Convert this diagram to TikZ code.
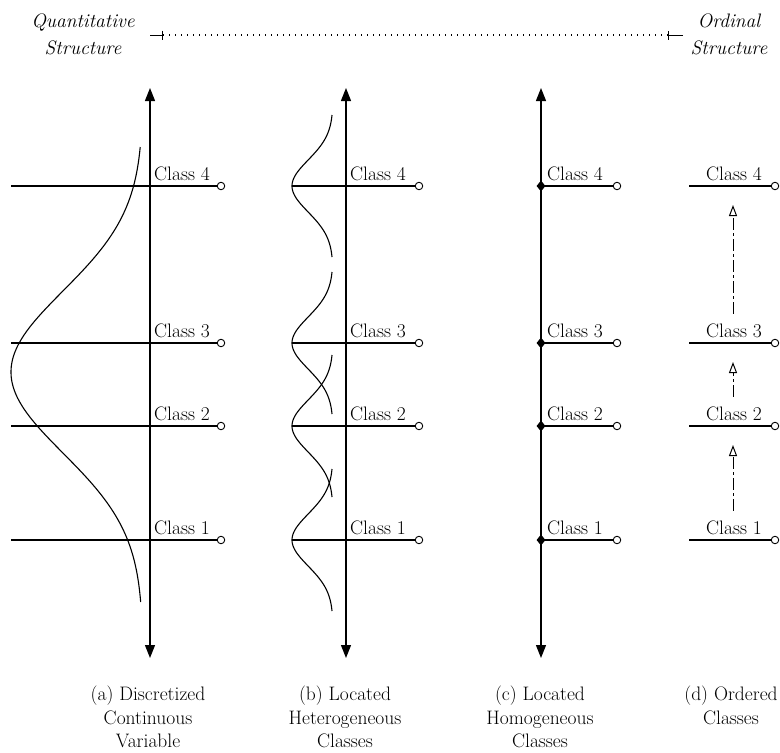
\documentclass[tikz,border=0pt]{standalone}
\usepackage{fontspec}
\usepackage{tikz}
\usetikzlibrary{arrows.meta,positioning,shapes.geometric}
\tikzset{
  axis/.style  ={{Triangle[length=13pt,width=10pt]}-{Triangle[length=13pt,width=10pt]}, line width=1.3pt},
  cls/.style   ={line width=1.1pt},
  endpt/.style ={circle, draw, line width=0.9pt, fill=white, inner sep=0pt, minimum size=7.5pt},
  loc/.style   ={diamond, fill, inner sep=0pt, minimum width=9pt, minimum height=11pt},
  lab/.style   ={font=\fontsize{19.5}{24}\selectfont, inner sep=0pt},
  subcap/.style={font=\fontsize{19.5}{23.5}\selectfont, align=center, inner sep=0pt, anchor=north},
  head/.style  ={font=\fontsize{19.5}{27}\selectfont\itshape, align=center, inner sep=0pt, anchor=north},
  dens/.style  ={line width=1.1pt, samples=90, smooth},
  ordarr/.style={-{Triangle[open,length=11pt,width=8pt]}, line width=1pt, dash pattern=on 12pt off 3pt on 3pt off 3pt, shorten <=10pt, shorten >=19pt},
}

\begin{document}
\begin{tikzpicture}[x=1pt,y=-1pt]
  \useasboundingbox (0,0) rectangle (780,753);

  % scale of structure
  \node[head] (quant) at (83,14) {Quantitative\\Structure};
  \node[head] (ord) at (729,14) {Ordinal\\Structure};
  \coordinate (ql) at (150,35);
  \coordinate (qt) at (163,35);
  \coordinate (ot) at (668,35);
  \coordinate (or) at (683,35);
  \draw[-{Bar[width=9pt]}, line width=1pt] (ql) -- (qt);
  \draw[-{Bar[width=9pt]}, line width=1pt] (or) -- (ot);
  \draw[line width=1.2pt, dash pattern=on 1.2pt off 4.8pt] (qt) -- (ot);

  % (a) discretized continuous variable
  \coordinate (a top) at (150,88);
  \coordinate (a bot) at (150,658);
  \draw[axis] (a bot) -- (a top);
  \draw[dens] plot[variable=\t, domain=147:602] ({143-132*exp(-0.5*((\t-372)/81)^2)},\t);
  \foreach \k/\y in {1/540,2/426,3/343,4/186} {
    \coordinate (a\k s) at (11,\y);
    \node[endpt] (a\k) at (221,\y) {};
    \draw[cls] (a\k s) -- (a\k);
    \node[lab, anchor=south west] (a\k lab) at (154,\y-5) {Class \k};
  }
  \node[subcap] (capa) at (148,686) {(a) Discretized\\Continuous\\Variable};

  % (b) located heterogeneous classes
  \coordinate (b top) at (346,88);
  \coordinate (b bot) at (346,658);
  \draw[axis] (b bot) -- (b top);
  \foreach \k/\y [evaluate=\y as \ylo using \y-71, evaluate=\y as \yhi using \y+71] in {1/540,2/426,3/343,4/186} {
    \draw[dens] plot[variable=\t, domain=\ylo:\yhi] ({333-41*exp(-0.5*((\t-\y)/26)^2)},\t);
    \coordinate (b\k s) at (292,\y);
    \node[endpt] (b\k) at (419,\y) {};
    \draw[cls] (b\k s) -- (b\k);
    \node[lab, anchor=south west] (b\k lab) at (350,\y-5) {Class \k};
  }
  \node[subcap] (capb) at (345,686) {(b) Located\\Heterogeneous\\Classes};

  % (c) located homogeneous classes
  \coordinate (c top) at (541,88);
  \coordinate (c bot) at (541,658);
  \draw[axis] (c bot) -- (c top);
  \foreach \k/\y in {1/540,2/426,3/343,4/186} {
    \node[loc] (c\k s) at (541,\y) {};
    \node[endpt] (c\k) at (617,\y) {};
    \draw[cls] (c\k s.center) -- (c\k);
    \node[lab, anchor=south west] (c\k lab) at (547,\y-5) {Class \k};
  }
  \node[subcap] (capc) at (540,686) {(c) Located\\Homogeneous\\Classes};

  % (d) ordered classes
  \foreach \k/\y in {1/540,2/426,3/343,4/186} {
    \coordinate (d\k s) at (689,\y);
    \coordinate (d\k m) at (733,\y);
    \node[endpt] (d\k) at (775,\y) {};
    \draw[cls] (d\k s) -- (d\k);
    \node[lab, anchor=south] (d\k lab) at (734,\y-5) {Class \k};
  }
  \foreach \i/\j in {1/2,2/3,3/4}
    \draw[ordarr] (d\i lab.north -| d\i m) -- (d\j m);
  \node[subcap] (capd) at (731,686) {(d) Ordered\\Classes};
\end{tikzpicture}
\end{document}
